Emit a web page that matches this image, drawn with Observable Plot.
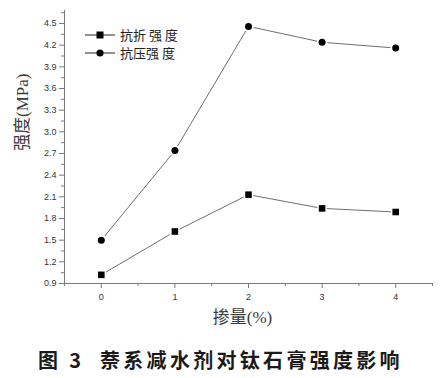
<!DOCTYPE html>
<html>
<head>
<meta charset="utf-8">
<script src="https://cdn.jsdelivr.net/npm/d3@7"></script>
<script src="https://cdn.jsdelivr.net/npm/@observablehq/plot@0.6"></script>
<style>
  body { margin: 0; background: #fff; width: 441px; height: 378px; overflow: hidden; }
  #caption { font-family: "Noto Sans CJK SC", sans-serif; font-size: 20px; font-weight: 700; color: #1a1a1a;
    text-align: center; letter-spacing: 3.3px; margin-top: 5px; white-space: pre; }
</style>
</head>
<body>
<div id="chart"></div>
<div id="caption"></div>
<script>
const dosage = [0, 1, 2, 3, 4];
const flexural = [1.02, 1.62, 2.13, 1.94, 1.89];
const compressive = [1.50, 2.74, 4.46, 4.24, 4.16];
const seriesNames = ["抗折 强 度", "抗压强 度"];
const yTicks = [0.9, 1.2, 1.5, 1.8, 2.1, 2.4, 2.7, 3.0, 3.3, 3.6, 3.9, 4.2, 4.5];
const yMinor = [1.05, 1.35, 1.65, 1.95, 2.25, 2.55, 2.85, 3.15, 3.45, 3.75, 4.05, 4.35, 4.65];
const xTicks = [0, 1, 2, 3, 4];
const xMinor = [-0.5, 0.5, 1.5, 2.5, 3.5, 4.5];
const yTitle = "强度(MPa)";
const xTitle = "掺量(%)";
const captionText = "图 3  萘系减水剂对钛石膏强度影响";

const rowsF = dosage.map((d, i) => ({x: d, y: flexural[i], s: seriesNames[0]}));
const rowsC = dosage.map((d, i) => ({x: d, y: compressive[i], s: seriesNames[1]}));

const axisColor = "#7a7a7a";
const lineColor = "#6e6e6e";

const plot = Plot.plot({
  width: 441,
  height: 340,
  marginTop: 10,
  marginLeft: 64,
  marginRight: 9,
  marginBottom: 57,
  style: {fontFamily: "Liberation Sans, Arial, sans-serif", fontSize: "9px", color: "#333"},
  x: {domain: [-0.5, 4.5]},
  y: {domain: [0.9, 4.68]},
  marks: [
    Plot.ruleX([-0.5], {y1: 0.9, y2: 4.68, stroke: axisColor}),
    Plot.ruleY([0.9], {x1: -0.5, x2: 4.5, stroke: axisColor}),
    Plot.axisY({ticks: yTicks, tickSize: 5, tickPadding: 3, tickFormat: d => d.toFixed(1), stroke: axisColor, fill: "#333", label: null}),
    Plot.axisY({ticks: yMinor, tickSize: 3, tickFormat: () => "", stroke: axisColor, label: null}),
    Plot.axisX({ticks: xTicks, tickSize: 5, tickPadding: 5, tickFormat: d => String(d), stroke: axisColor, fill: "#333", label: null}),
    Plot.axisX({ticks: xMinor, tickSize: 3, tickFormat: () => "", stroke: axisColor, label: null}),
    Plot.line(rowsF, {x: "x", y: "y", stroke: lineColor, strokeWidth: 1}),
    Plot.line(rowsC, {x: "x", y: "y", stroke: lineColor, strokeWidth: 1}),
    Plot.dot(rowsF, {x: "x", y: "y", symbol: "square", r: 5.3, fill: "white", stroke: null}),
    Plot.dot(rowsC, {x: "x", y: "y", symbol: "circle", r: 5.3, fill: "white", stroke: null}),
    Plot.dot(rowsF, {x: "x", y: "y", symbol: "square", r: 3.7, fill: "black", stroke: null}),
    Plot.dot(rowsC, {x: "x", y: "y", symbol: "circle", r: 3.5, fill: "black", stroke: null}),
    Plot.text([yTitle], {frameAnchor: "left", dx: -42, dy: 4, rotate: -90, fontSize: 17, fill: "#3a3a3a",
      fontFamily: "Liberation Serif, Noto Sans CJK SC, serif", text: d => d}),
    Plot.text([xTitle], {frameAnchor: "bottom", dx: -6, dy: 39, fontSize: 17, fill: "#3a3a3a",
      fontFamily: "Liberation Serif, Noto Sans CJK SC, serif", text: d => d})
  ]
});
document.getElementById("chart").appendChild(plot);

// legend
const svg = d3.select(plot);
const leg = svg.append("g");
const legendItems = [{name: seriesNames[0], sym: "square"}, {name: seriesNames[1], sym: "circle"}];
legendItems.forEach((it, i) => {
  const cy = 35 + i * 18;
  leg.append("line").attr("x1", 85).attr("x2", 115).attr("y1", cy).attr("y2", cy).attr("stroke", "#222").attr("stroke-width", 1);
  if (it.sym === "square") {
    leg.append("rect").attr("x", 96.5).attr("y", cy - 3.5).attr("width", 7).attr("height", 7).attr("fill", "black");
  } else {
    leg.append("circle").attr("cx", 100).attr("cy", cy).attr("r", 3.6).attr("fill", "black");
  }
  leg.append("text").attr("x", 120).attr("y", cy).attr("dy", "0.36em").attr("text-anchor", "start")
    .style("white-space", "pre")
    .attr("font-family", "Noto Sans CJK SC, sans-serif").attr("font-size", 13).attr("fill", "#222")
    .text(it.name);
});

document.getElementById("caption").textContent = captionText;
</script>
</body>
</html>
